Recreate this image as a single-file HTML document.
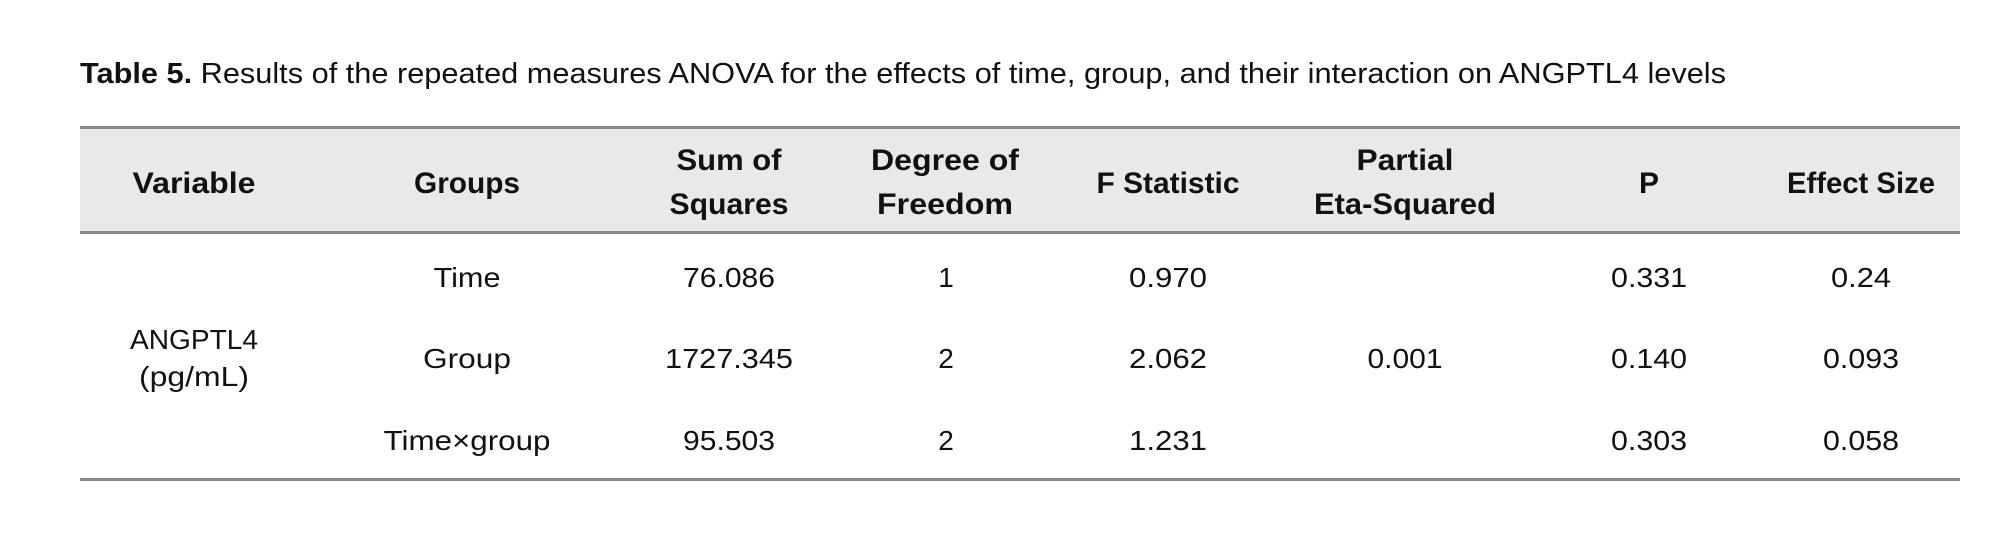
<!DOCTYPE html>
<html><head><meta charset="utf-8"><style>
html,body{margin:0;padding:0;background:#fff;}
svg{display:block;}
text{font-family:"Liberation Sans",sans-serif;fill:#111;}
.h{font-weight:bold;font-size:30px;}
.b{font-size:28px;}
</style></head><body>
<svg width="2000" height="545" viewBox="0 0 2000 545">
<text x="80" y="83" font-size="29" textLength="1646" lengthAdjust="spacingAndGlyphs"><tspan font-weight="bold">Table 5.</tspan> Results of the repeated measures ANOVA for the effects of time, group, and their interaction on ANGPTL4 levels</text>
<rect x="80" y="127" width="1880" height="105" fill="#e9e9e9"/>
<rect x="80" y="126" width="1880" height="3" fill="#8a8a8a"/>
<rect x="80" y="231" width="1880" height="3" fill="#8a8a8a"/>
<rect x="80" y="478" width="1880" height="3" fill="#8a8a8a"/>
<g class="h" text-anchor="middle">
<text class="h" x="194" y="193" textLength="123" lengthAdjust="spacingAndGlyphs">Variable</text>
<text class="h" x="467" y="193" textLength="106" lengthAdjust="spacingAndGlyphs">Groups</text>
<text class="h" x="729" y="170" textLength="105" lengthAdjust="spacingAndGlyphs">Sum of</text>
<text class="h" x="729" y="214" textLength="119" lengthAdjust="spacingAndGlyphs">Squares</text>
<text class="h" x="945" y="170" textLength="148" lengthAdjust="spacingAndGlyphs">Degree of</text>
<text class="h" x="945" y="214" textLength="136" lengthAdjust="spacingAndGlyphs">Freedom</text>
<text class="h" x="1168" y="193" textLength="143" lengthAdjust="spacingAndGlyphs">F Statistic</text>
<text class="h" x="1405" y="170" textLength="97" lengthAdjust="spacingAndGlyphs">Partial</text>
<text class="h" x="1405" y="214" textLength="182" lengthAdjust="spacingAndGlyphs">Eta-Squared</text>
<text class="h" x="1649" y="193">P</text>
<text class="h" x="1861" y="193" textLength="148" lengthAdjust="spacingAndGlyphs">Effect Size</text>
</g>
<g text-anchor="middle">
<text class="b" x="194" y="349" textLength="128" lengthAdjust="spacingAndGlyphs">ANGPTL4</text>
<text class="b" x="194" y="386" textLength="110" lengthAdjust="spacingAndGlyphs">(pg/mL)</text>
<text class="b" x="467" y="287" textLength="67" lengthAdjust="spacingAndGlyphs">Time</text>
<text class="b" x="467" y="368" textLength="88" lengthAdjust="spacingAndGlyphs">Group</text>
<text class="b" x="467" y="450" textLength="167" lengthAdjust="spacingAndGlyphs">Time×group</text>
<text class="b" x="729" y="287" textLength="92" lengthAdjust="spacingAndGlyphs">76.086</text>
<text class="b" x="729" y="368" textLength="128" lengthAdjust="spacingAndGlyphs">1727.345</text>
<text class="b" x="729" y="450" textLength="92" lengthAdjust="spacingAndGlyphs">95.503</text>
<text class="b" x="946" y="287">1</text>
<text class="b" x="946" y="368">2</text>
<text class="b" x="946" y="450">2</text>
<text class="b" x="1168" y="287" textLength="78" lengthAdjust="spacingAndGlyphs">0.970</text>
<text class="b" x="1168" y="368" textLength="78" lengthAdjust="spacingAndGlyphs">2.062</text>
<text class="b" x="1168" y="450" textLength="78" lengthAdjust="spacingAndGlyphs">1.231</text>
<text class="b" x="1405" y="368" textLength="75" lengthAdjust="spacingAndGlyphs">0.001</text>
<text class="b" x="1649" y="287" textLength="76" lengthAdjust="spacingAndGlyphs">0.331</text>
<text class="b" x="1649" y="368" textLength="76" lengthAdjust="spacingAndGlyphs">0.140</text>
<text class="b" x="1649" y="450" textLength="76" lengthAdjust="spacingAndGlyphs">0.303</text>
<text class="b" x="1861" y="287" textLength="60" lengthAdjust="spacingAndGlyphs">0.24</text>
<text class="b" x="1861" y="368" textLength="76" lengthAdjust="spacingAndGlyphs">0.093</text>
<text class="b" x="1861" y="450" textLength="76" lengthAdjust="spacingAndGlyphs">0.058</text>
</g>
</svg>
</body></html>
